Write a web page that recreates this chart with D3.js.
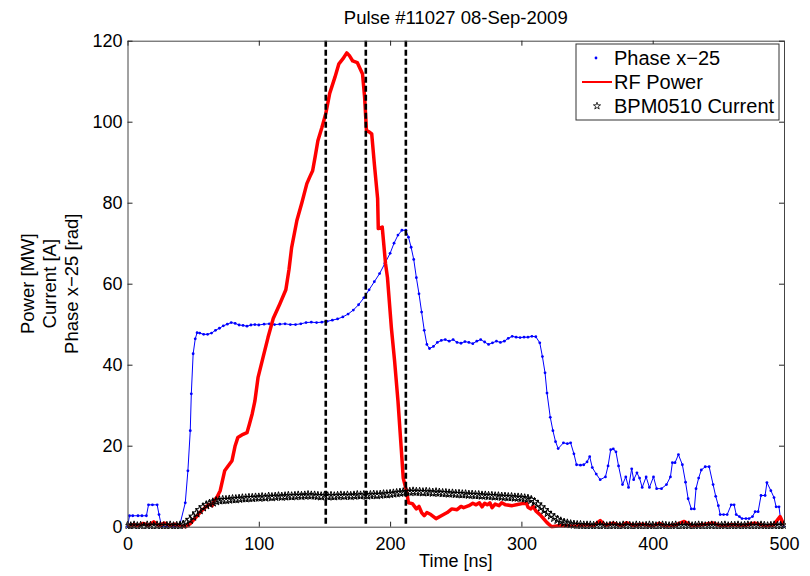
<!DOCTYPE html>
<html>
<head>
<meta charset="utf-8">
<script src="https://cdn.jsdelivr.net/npm/d3@7/dist/d3.min.js"></script>
<style>
  body { margin: 0; background: #fff; }
  text { font-family: "Liberation Sans", Arial, Helvetica, sans-serif; fill: #000; }
</style>
</head>
<body>
<script>
// 1 - données  [temps ns, valeur]
const phase = [[0,0],[1.5,2.7],[4,2.7],[8,2.7],[11,2.7],[14.4,2.7],[16,5.4],[19,5.4],[22.6,5.4],[24,3],[26,0],[30,0],[35,0],[39.5,0],
  [44,5.9],[46,13.8],[47.8,23.7],[48.6,32.8],[50,42.7],[51.6,46.4],[53,47.9],[55,47.8],[58,47.5],[61,47.5],[64,47.8],[67,48.5],
  [70,49],[73,49.6],[76,50],[79,50.4],[82,50.2],[85,49.8],[88,49.7],[91,49.5],[94,49.8],[97,49.9],[100,49.8],[104,50],[108,50.1],
  [112,49.9],[116,50],[120,50.1],[124,49.9],[128,49.9],[132,50.1],[136,50.4],[140,50.5],[144,50.4],[148,50.5],[152,50.7],[156,51],
  [160,51.3],[164,51.8],[168,52.5],[172,53.5],[176,54.8],[180,56.5],[184,58.5],[188,60.5],[192,62.5],[196,65],[200,67.5],[203,70],
  [206,72],[209,73.2],[212,73.2],[214,71.5],[216,69],[218,66],[220,61.5],[222,57.5],[224,53],[226,48.5],[228,45],[230,44],[233,44.5],
  [236,45.5],[239,46],[242,46.2],[245,45.8],[248,46.2],[251,45.5],[254,45.3],[257,45.7],[260,45.5],[263,45.2],[266,45.8],[269,46.2],
  [272,45.6],[275,45],[278,45.4],[281,45.8],[284,45.5],[287,45.8],[290,46.5],[293,47],[296,46.8],[299,46.7],[302,46.8],[305,46.8],
  [308,47],[311,46.9],[314,45.4],[316,42],[318,38],[319.5,33],[322,27],[324,23.7],[326,21],[328,19.3],[332,20.7],[335,20.5],
  [337.5,20.7],[340,18],[342,15.3],[345,15.2],[347.5,15.3],[350,16],[352,17.3],[354,14.6],[357,13],[360,11.6],[364,12.3],[366,15],
  [368,19],[370,19.2],[372,18.5],[374,15],[377,10.4],[379.5,12.3],[381.6,9.7],[384,14.3],[385.5,11.6],[388,13.3],[390,12],[392,9.7],
  [395,12.3],[397.5,9.7],[400.6,12.3],[403,9.4],[406.7,9.4],[410.5,10.4],[413.5,12.3],[415,15.8],[417,15.8],[419.6,17.8],[422.6,15.3],
  [425,11],[427,6.9],[429.4,4.4],[431.7,4.4],[433,9.4],[435,12],[437,14],[440,14.8],[443,14.8],[446,10.4],[448,7.5],[450,5.2],
  [451.4,3],[454,3],[456.7,3],[459.8,5.4],[462,5.4],[463.6,3],[466,2.5],[468,2],[471,2],[473.4,2],[476,2.5],[478,3.7],[480.3,3.7],
  [482.5,7.7],[485.6,7.7],[487,10.9],[490,8.9],[492.4,7.2],[494,4.9],[496.2,4.9],[497.7,1],[500,0]];

const rfPower = [[0,0.3],[5,0.5],[8,0.2],[12,0.8],[16,0.3],[20,1.2],[24,0.2],[28,0.9],[32,0.3],[36,0.6],[40,0.2],[44,0],[48,0.8],
  [53,2.7],[56,3.8],[59,4.7],[62,5.5],[64.5,5.2],[66,6.5],[68,7.2],[70.6,8.9],[74,13.8],[75.8,14.6],[79.6,16.3],[82,20],[84,22],
  [88,22.8],[91,23.2],[93,25.5],[95,27.9],[97,31],[99.4,36.8],[103,41.5],[107,46.7],[111,51.4],[116,55],[120.6,58.5],[123,63.5],
  [125,68.9],[129,75.6],[132.8,80],[136.6,84.7],[139,86.5],[141,87.9],[143,91.5],[145,95.3],[148,98.5],[151,102],[154,107],[158,111],
  [161,114.3],[164,115.5],[167,117],[169,116.3],[171.5,115],[175,114.6],[179,111.8],[180.6,106],[182,97.8],[184,97.5],[186,97],
  [188,89.6],[190.5,81],[191,73.6],[194,74],[196.5,65],[198,61.5],[201,49],[203.4,41],[206,31],[208.6,18.8],[210,12],[212.4,8.9],
  [214,5.9],[217,5.7],[220,4.4],[222,5],[224,3.5],[226,2.7],[228,3.5],[231,3],[235,2],[239,2.7],[243.5,3.5],[247,4.4],[251,4.2],
  [254,5],[256,4.7],[260,5.2],[263,5.8],[265.5,5.4],[268,5.9],[270,4.9],[272,5.8],[274,5.4],[276,5.9],[277.7,4.7],[280,5.6],
  [283,5.2],[285,5.9],[288,5.4],[293,5.2],[297,5.5],[300.5,5.7],[304,5.7],[305,4.8],[307,4.4],[309,5],[311,3.9],[315,2.7],
  [319.5,1],[323,0],[330,0.3],[340,0.1],[350,0.5],[355,0.2],[360,1.5],[364,0.3],[370,0.9],[376,0.2],[380,1],[385,0.3],[392,0.6],
  [400,0.2],[405,0.8],[410,0.1],[418,0.5],[424,1.3],[430,0.2],[440,0.6],[446,0.9],[452,0.2],[460,0.5],[470,0.3],[478,0.9],
  [485,0.2],[492,0.4],[497,2.5],[500,0.4]];

// courant BPM, un échantillon toutes les 2.5 ns depuis 0
const bpmStep = 2.5;
const bpmCurrent = [0.2,0.1,0.3,0.1,0.2,0,0.3,0.2,0.1,0.3,0.2,0.1,0.2,0.3,0.1,0.2,0.3,
  0.5,1.0,1.7,2.5,3.3,4.1,4.8,5.3,5.7,6.0,6.3,6.5,6.6,6.6,6.7,6.8,6.8,6.9,7.0,7.0,7.1,7.1,7.2,7.2,
  7.3,7.2,7.4,7.3,7.4,7.5,7.4,7.5,7.6,7.5,7.6,7.7,7.6,7.7,7.8,7.7,7.7,7.6,7.5,7.6,
  7.5,7.6,7.5,7.6,7.7,7.6,7.7,7.6,7.7,7.8,7.7,7.8,7.7,7.8,7.9,7.8,7.9,8.0,8.0,8.1,
  8.2,8.3,8.4,8.5,8.6,8.6,8.7,8.6,8.6,8.5,8.6,8.5,8.4,8.5,8.4,8.3,8.3,8.2,8.2,8.1,
  8.1,8.0,8.0,7.9,7.9,7.8,7.8,7.7,7.7,7.6,7.6,7.5,7.5,7.4,7.4,7.3,7.3,7.2,7.2,7.1,
  7.0,6.9,6.6,6.1,5.5,4.8,4.1,3.4,2.8,2.2,1.7,1.3,1.0,0.8,0.6,0.5,0.4,0.4,0.3,0.3,
  0.3,0.2,0.3,0.2,0.3,0.1,0.2,0.3,0.2,0.1,0.3,0.2,0.2,0.1,0.3,0.2,0.1,0.2,0.3,0.2,
  0.1,0.2,0.3,0.2,0.1,0.2,0.3,0.1,0.2,0.2,0.3,0.1,0.2,0.3,0.2,0.1,0.2,0.3,0.2,0.1,
  0.2,0.3,0.1,0.2,0.2,0.3,0.1,0.2,0.3,0.2,0.1,0.2,0.3,0.2,0.1,0.2,0.3,0.2,0.2,0.3];

const markerTimes = [151, 181.5, 212];
const xTicks = [0, 100, 200, 300, 400, 500];
const yTicks = [0, 20, 40, 60, 80, 100, 120];
const legendLabels = ["Phase x\u221225", "RF Power", "BPM0510 Current"];
const yLabelLines = ["Power [MW]", "Current [A]", "Phase x\u221225 [rad]"];
const title = "Pulse #11027 08-Sep-2009";

// 2 - échelles
let margin = { top: 40.7, right: 26, bottom: 49.3, left: 127.5 };
let width = 810 - margin.left - margin.right,
    height = 576 - margin.top - margin.bottom;

let x = d3.scaleLinear().domain([0, 500]).range([0, width]);
let y = d3.scaleLinear().domain([0, 120]).range([height, 0]);

// 3 - svg
let root = d3.select("body").append("svg")
    .attr("width", 810)
    .attr("height", 576);

let svg = root.append("g")
    .attr("transform", "translate(" + margin.left + "," + margin.top + ")");

svg.append("defs").append("clipPath").attr("id", "clip")
    .append("rect").attr("x", -2).attr("y", -2).attr("width", width + 4).attr("height", height + 4);

let plot = svg.append("g").attr("clip-path", "url(#clip)");

// phase (bleu, points)
plot.append("path")
    .datum(phase)
    .attr("d", d3.line().x(d => x(d[0])).y(d => y(d[1])))
    .attr("fill", "none")
    .attr("stroke", "#0000ff")
    .attr("stroke-width", 1);

plot.selectAll(".dot")
    .data(phase)
    .enter()
    .append("circle")
    .attr("cx", d => x(d[0]))
    .attr("cy", d => y(d[1]))
    .attr("r", 1.4)
    .attr("fill", "#0000ff");

// puissance RF (rouge épais)
plot.append("path")
    .datum(rfPower)
    .attr("d", d3.line().x(d => x(d[0])).y(d => y(d[1])))
    .attr("fill", "none")
    .attr("stroke", "#ff0000")
    .attr("stroke-width", 3.5)
    .attr("stroke-linejoin", "round");

// courant BPM (étoiles)
let star = d3.symbol().type(d3.symbolStar).size(24);
plot.selectAll(".star")
    .data(bpmCurrent)
    .enter()
    .append("path")
    .attr("d", star)
    .attr("transform", (d, i) => "translate(" + x(i * bpmStep) + "," + y(d) + ")")
    .attr("fill", "none")
    .attr("stroke", "#000")
    .attr("stroke-width", 1);

// lignes verticales pointillées
svg.selectAll(".vline")
    .data(markerTimes)
    .enter()
    .append("line")
    .attr("x1", d => x(d)).attr("x2", d => x(d))
    .attr("y1", 0).attr("y2", height)
    .attr("stroke", "#000")
    .attr("stroke-width", 2.6)
    .attr("stroke-dasharray", "6,3");

// 4 - axes (ticks vers l'intérieur, façon matlab)
function styleAxis(g) {
    g.selectAll(".domain").attr("stroke", "#444");
    g.selectAll(".tick line").attr("stroke", "#222");
    g.selectAll("text").style("font-size", "18px").attr("fill", "#000");
}

svg.append("g")
    .attr("transform", "translate(0," + height + ")")
    .call(d3.axisBottom(x).tickValues(xTicks).tickSize(-5).tickSizeOuter(0).tickPadding(11))
    .call(styleAxis);

svg.append("g")
    .call(d3.axisTop(x).tickValues(xTicks).tickSize(-5).tickSizeOuter(0).tickFormat(""))
    .call(styleAxis);

svg.append("g")
    .call(d3.axisLeft(y).tickValues(yTicks).tickSize(-5).tickSizeOuter(0).tickPadding(5))
    .call(styleAxis);

svg.append("g")
    .attr("transform", "translate(" + width + ",0)")
    .call(d3.axisRight(y).tickValues(yTicks).tickSize(-5).tickSizeOuter(0).tickFormat(""))
    .call(styleAxis);

// 5 - textes
root.append("text")
    .attr("x", margin.left + width / 2)
    .attr("y", 24)
    .attr("text-anchor", "middle")
    .style("font-size", "18.5px")
    .text(title);

root.append("text")
    .attr("x", margin.left + width / 2)
    .attr("y", 567)
    .attr("text-anchor", "middle")
    .style("font-size", "18px")
    .text("Time [ns]");

yLabelLines.forEach((t, i) => {
    root.append("text")
        .attr("transform", "translate(" + (34 + i * 22) + "," + (margin.top + height / 2) + ") rotate(-90)")
        .attr("text-anchor", "middle")
        .style("font-size", "18.5px")
        .text(t);
});

// 6 - légende
let legend = root.append("g").attr("transform", "translate(576,44)");
legend.append("rect")
    .attr("width", 203).attr("height", 76)
    .attr("fill", "#fff")
    .attr("stroke", "#333")
    .attr("stroke-width", 1);

let rowY = [14, 38, 62];
legendLabels.forEach((t, i) => {
    legend.append("text")
        .attr("x", 38)
        .attr("y", rowY[i])
        .attr("dy", "0.36em")
        .style("font-size", "20px")
        .text(t);
});
legend.append("circle").attr("cx", 20).attr("cy", rowY[0]).attr("r", 1.4).attr("fill", "#0000ff");
legend.append("line").attr("x1", 6).attr("x2", 36).attr("y1", rowY[1]).attr("y2", rowY[1])
    .attr("stroke", "#ff0000").attr("stroke-width", 2);
legend.append("path").attr("d", d3.symbol().type(d3.symbolStar).size(16))
    .attr("transform", "translate(21," + rowY[2] + ")")
    .attr("fill", "none").attr("stroke", "#000").attr("stroke-width", 0.8);
</script>
</body>
</html>
